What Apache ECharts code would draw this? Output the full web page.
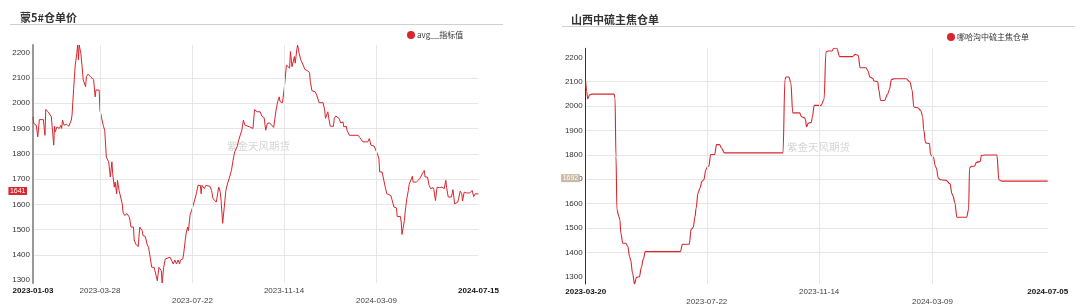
<!DOCTYPE html>
<html><head><meta charset="utf-8">
<script src="https://cdn.jsdelivr.net/npm/echarts@6/dist/echarts.min.js"></script>
<style>html,body{margin:0;padding:0;background:#fff}#c{width:1080px;height:307px}</style>
</head><body><div id="c"></div>
<script>
const leftTitle = '蒙5#仓单价';
const rightTitle = '山西中硫主焦仓单';
const leftName = 'avg__指标值';
const rightName = '哪哈沟中硫主焦仓单';
const watermark = '紫金天风期货';

const leftDates = [
'2023-01-03','2023-01-04','2023-01-07','2023-01-09','2023-01-11','2023-01-16','2023-01-18','2023-01-19','2023-01-22','2023-01-26',
'2023-01-28','2023-01-29','2023-01-30','2023-01-31','2023-02-02','2023-02-05','2023-02-07','2023-02-08','2023-02-09','2023-02-11',
'2023-02-14','2023-02-17','2023-02-20','2023-02-21','2023-02-23','2023-02-25','2023-02-27','2023-02-28','2023-03-01','2023-03-02',
'2023-03-04','2023-03-06','2023-03-07','2023-03-10','2023-03-11','2023-03-13','2023-03-16','2023-03-18','2023-03-20','2023-03-22',
'2023-03-23','2023-03-27','2023-03-28','2023-03-30','2023-04-01','2023-04-03','2023-04-05','2023-04-08','2023-04-10','2023-04-12',
'2023-04-13','2023-04-15','2023-04-16','2023-04-18','2023-04-19','2023-04-21','2023-04-23','2023-04-25','2023-04-26','2023-04-28',
'2023-05-01','2023-05-04','2023-05-06','2023-05-09','2023-05-10','2023-05-12','2023-05-15','2023-05-17','2023-05-20','2023-05-21',
'2023-05-24','2023-05-26','2023-05-28','2023-05-30','2023-06-01','2023-06-04','2023-06-06','2023-06-08','2023-06-10','2023-06-13',
'2023-06-14','2023-06-16','2023-06-18','2023-06-20','2023-06-24','2023-06-26','2023-06-28','2023-06-30','2023-07-02','2023-07-04',
'2023-07-06','2023-07-07','2023-07-10','2023-07-11','2023-07-14','2023-07-16','2023-07-17','2023-07-19','2023-07-21','2023-07-23',
'2023-07-25','2023-07-27','2023-07-29','2023-08-01','2023-08-02','2023-08-03','2023-08-06','2023-08-08','2023-08-10','2023-08-13',
'2023-08-15','2023-08-17','2023-08-19','2023-08-21','2023-08-24','2023-08-26','2023-08-27','2023-08-29','2023-08-31','2023-09-02',
'2023-09-04','2023-09-06','2023-09-08','2023-09-09','2023-09-11','2023-09-13','2023-09-16','2023-09-18','2023-09-20','2023-09-22',
'2023-09-24','2023-09-26','2023-10-02','2023-10-06','2023-10-08','2023-10-11','2023-10-15','2023-10-17','2023-10-20','2023-10-22',
'2023-10-24','2023-10-27','2023-10-29','2023-11-01','2023-11-04','2023-11-06','2023-11-08','2023-11-09','2023-11-12','2023-11-14',
'2023-11-15','2023-11-17','2023-11-19','2023-11-21','2023-11-22','2023-11-24','2023-11-26','2023-11-27','2023-11-28','2023-11-30',
'2023-12-01','2023-12-03','2023-12-05','2023-12-07','2023-12-08','2023-12-10','2023-12-13','2023-12-16','2023-12-17','2023-12-19',
'2023-12-21','2023-12-23','2023-12-25','2023-12-27','2023-12-28','2024-01-02','2024-01-04','2024-01-05','2024-01-07','2024-01-08',
'2024-01-09','2024-01-11','2024-01-15','2024-01-16','2024-01-18','2024-01-20','2024-01-22','2024-01-24','2024-01-27','2024-01-28',
'2024-01-31','2024-02-01','2024-02-04','2024-02-15','2024-02-17','2024-02-21','2024-02-27','2024-02-29','2024-03-02','2024-03-04',
'2024-03-06','2024-03-08','2024-03-10','2024-03-12','2024-03-13','2024-03-16','2024-03-18','2024-03-20','2024-03-22','2024-03-24',
'2024-03-27','2024-03-29','2024-03-31','2024-04-03','2024-04-04','2024-04-08','2024-04-09','2024-04-10','2024-04-13','2024-04-14',
'2024-04-16','2024-04-18','2024-04-19','2024-04-21','2024-04-23','2024-04-24','2024-04-28','2024-05-01','2024-05-03','2024-05-05',
'2024-05-08','2024-05-09','2024-05-12','2024-05-14','2024-05-16','2024-05-19','2024-05-20','2024-05-22','2024-05-24','2024-05-27',
'2024-05-29','2024-05-30','2024-06-02','2024-06-04','2024-06-05','2024-06-07','2024-06-11','2024-06-13','2024-06-15','2024-06-17',
'2024-06-19','2024-06-20','2024-06-22','2024-06-24','2024-06-25','2024-06-27','2024-06-30','2024-07-02','2024-07-04','2024-07-07',
'2024-07-09','2024-07-11','2024-07-15'
];
const leftValues = [
1946,1920,1913,1867,1935,1935,1873,1975,1966,1946,
1940,1834,1909,1887,1906,1900,1913,1900,1933,1913,
1916,1909,1933,1953,2058,2151,2197,2230,2171,2230,
2197,2131,2092,2065,2105,2115,2105,2107,2094,2025,
2052,2052,1973,1943,1913,1893,1787,1768,1708,1768,
1721,1668,1688,1642,1695,1655,1655,1602,1569,1556,
1563,1549,1510,1510,1459,1443,1433,1510,1496,1477,
1473,1443,1430,1391,1351,1351,1344,1298,1351,1338,
1289,1351,1384,1380,1391,1388,1364,1380,1364,1380,
1364,1380,1384,1404,1483,1510,1496,1556,1576,1596,
1602,1642,1675,1675,1642,1675,1662,1675,1671,1671,
1655,1622,1615,1609,1668,1648,1615,1525,1589,1655,
1681,1701,1708,1734,1774,1807,1827,1853,1873,1893,
1933,1913,1906,1900,1975,1966,1966,1949,1943,1893,
1920,1922,1920,1904,1973,2006,2025,2006,2002,2052,
2081,2151,2151,2138,2204,2144,2147,2184,2158,2211,
2230,2197,2171,2168,2151,2134,2129,2121,2085,2049,
2055,2045,2032,2025,2002,2002,1973,1940,1943,1966,
1943,1909,1909,1940,1949,1943,1940,1922,1926,1906,
1909,1893,1873,1873,1864,1847,1847,1860,1834,1834,
1830,1827,1801,1781,1728,1728,1724,1668,1642,1639,
1635,1635,1589,1586,1552,1552,1530,1481,1536,1569,
1622,1655,1679,1679,1711,1688,1688,1697,1705,1719,
1734,1708,1708,1675,1662,1666,1658,1615,1668,1666,
1662,1668,1662,1695,1666,1629,1629,1658,1602,1596,
1609,1622,1652,1642,1613,1648,1645,1639,1645,1655,
1631,1642,1641
];

const rightDates = [
'2023-03-20','2023-03-21','2023-03-22','2023-03-24','2023-03-26','2023-04-18','2023-04-19','2023-04-20','2023-04-21','2023-04-23',
'2023-04-24','2023-04-25','2023-04-27','2023-04-30','2023-05-02','2023-05-04','2023-05-05','2023-05-07','2023-05-09','2023-05-11',
'2023-05-14','2023-05-16','2023-05-18','2023-05-20','2023-06-25','2023-06-27','2023-07-04','2023-07-06','2023-07-08','2023-07-10',
'2023-07-11','2023-07-13','2023-07-15','2023-07-17','2023-07-19','2023-07-21','2023-07-23','2023-07-24','2023-07-26','2023-07-30',
'2023-08-01','2023-08-04','2023-08-06','2023-08-09','2023-10-08','2023-10-10','2023-10-11','2023-10-14','2023-10-16','2023-10-18',
'2023-10-25','2023-10-27','2023-10-30','2023-10-31','2023-11-01','2023-11-03','2023-11-06','2023-11-07','2023-11-09','2023-11-16',
'2023-11-19','2023-11-21','2023-11-23','2023-11-27','2023-11-29','2023-12-02','2023-12-05','2023-12-18','2023-12-21','2023-12-24',
'2023-12-26','2024-01-01','2024-01-03','2024-01-05','2024-01-08','2024-01-09','2024-01-13','2024-01-14','2024-01-16','2024-01-20',
'2024-01-23','2024-01-25','2024-01-27','2024-01-30','2024-02-11','2024-02-15','2024-02-17','2024-02-19','2024-02-23','2024-02-26',
'2024-02-28','2024-02-29','2024-03-02','2024-03-06','2024-03-07','2024-03-10','2024-03-12','2024-03-13','2024-03-15','2024-03-17',
'2024-03-23','2024-03-27','2024-03-29','2024-03-30','2024-04-01','2024-04-03','2024-04-13','2024-04-15','2024-04-16','2024-04-18',
'2024-04-21','2024-04-23','2024-04-27','2024-04-28','2024-05-02','2024-05-14','2024-05-16','2024-05-19','2024-07-05'
];
const rightValues = [
2102,2061,2030,2046,2049,2049,2034,1794,1575,1547,
1533,1478,1437,1437,1426,1382,1369,1314,1270,1297,
1300,1339,1372,1403,1403,1433,1433,1495,1502,1547,
1581,1643,1664,1691,1698,1739,1753,1753,1801,1801,
1842,1842,1828,1808,1808,2109,2119,2119,2096,1972,
1972,1956,1952,1945,1915,1930,1933,1955,2003,2003,
2027,2222,2226,2226,2237,2237,2203,2203,2212,2208,
2157,2157,2144,2119,2114,2103,2100,2068,2023,2023,
2048,2068,2109,2112,2112,2099,2068,1996,1993,1982,
1956,1904,1849,1846,1801,1790,1753,1746,1705,1698,
1695,1681,1640,1632,1602,1544,1544,1575,1746,1753,
1753,1769,1773,1797,1799,1799,1698,1692,1692
];

const leftXLabels = ['2023-01-03','2023-03-28','2023-07-22','2023-11-14','2024-03-09','2024-07-15'];
const rightXLabels = ['2023-03-20','2023-07-22','2023-11-14','2024-03-09','2024-07-05'];
const lowerRowLabels = ['2023-07-22','2024-03-09'];
const yTickValues = [1300,1400,1500,1600,1700,1800,1900,2000,2100,2200];

const RED = '#d7262d';
const GRIDC = '#e6e6e6';
const FONT = '"Liberation Sans", Arial, "Noto Sans CJK SC", sans-serif';
const CJK = '"Noto Sans CJK SC", "Liberation Sans", sans-serif';

const ts = s => Date.parse(s + 'T00:00:00Z');
function fmtDate(v){
  const d = new Date(v);
  const p = n => (n < 10 ? '0' : '') + n;
  return d.getUTCFullYear() + '-' + p(d.getUTCMonth()+1) + '-' + p(d.getUTCDate());
}
function xLabelFormatter(labels){
  return function(v){
    const s = fmtDate(v);
    if (s === labels[0] || s === labels[labels.length-1]) return '{b|' + s + '}';
    if (lowerRowLabels.indexOf(s) >= 0) return '\n{n|' + s + '}';
    return '{n|' + s + '}';
  };
}
function xAxisFor(gridIndex, labels){
  const vals = labels.map(ts);
  return {
    type: 'value', gridIndex: gridIndex,
    min: vals[0], max: vals[vals.length-1],
    axisLine: {show: false},
    axisTick: {show: false, customValues: vals},
    axisLabel: {
      customValues: vals, formatter: xLabelFormatter(labels), margin: 3,
      lineHeight: 10, hideOverlap: false, showMinLabel: true, showMaxLabel: true,
      rich: {
        b: {fontFamily: FONT, fontSize: 8, fontWeight: 'bold', color: '#111', lineHeight: 10},
        n: {fontFamily: FONT, fontSize: 8, color: '#444', lineHeight: 10}
      }
    },
    splitLine: {show: false}
  };
}
function yAxisFor(gridIndex, axisColor, axisWidth){
  return {
    type: 'value', gridIndex: gridIndex, min: 'dataMin', max: 'dataMax', scale: true,
    axisLine: {show: true, lineStyle: {color: axisColor, width: axisWidth}},
    axisTick: {show: false, customValues: yTickValues},
    axisLabel: {customValues: yTickValues, formatter: v => String(v), fontFamily: FONT, fontSize: 8, color: '#333', margin: 3},
    splitLine: {show: true, showMinLine: false, showMaxLine: false, lineStyle: {color: GRIDC, width: 1}}
  };
}
function tagLine(value, bg){
  return {
    silent: true, symbol: 'none', animation: false,
    lineStyle: {color: 'transparent', width: 0},
    data: [{yAxis: value}],
    label: {
      show: true, position: 'start', distance: 6, formatter: String(value),
      backgroundColor: bg, color: '#fff', fontFamily: FONT, fontSize: 7,
      lineHeight: 8, padding: [0, 1.5], offset: [0, -3]
    }
  };
}
function vGridSeries(gridIndex, labels){
  return {
    type: 'line', xAxisIndex: gridIndex, yAxisIndex: gridIndex, data: [], z: 1, silent: true,
    markLine: {
      silent: true, symbol: 'none', animation: false, label: {show: false},
      lineStyle: {color: GRIDC, width: 1, type: 'solid'},
      emphasis: {disabled: true},
      data: labels.slice(1, labels.length-1).map(s => ({xAxis: ts(s)}))
    }
  };
}

const chart = echarts.init(document.getElementById('c'), null, {renderer: 'canvas'});
chart.setOption({
  animation: false,
  backgroundColor: '#fff',
  title: [
    {text: leftTitle, left: 15, top: 7, textStyle: {fontFamily: CJK, fontSize: 11, fontWeight: 'bold', color: '#333'}},
    {text: rightTitle, left: 566, top: 9, textStyle: {fontFamily: CJK, fontSize: 11, fontWeight: 'bold', color: '#333'}}
  ],
  legend: [
    {data: [leftName], left: 407, top: 31, icon: 'circle', itemWidth: 8, itemHeight: 8, itemGap: 4, padding: 0,
     textStyle: {fontFamily: CJK, fontSize: 8, color: '#333', padding: [0,0,0,-3]}},
    {data: [rightName], left: 947, top: 33, icon: 'circle', itemWidth: 8, itemHeight: 8, itemGap: 4, padding: 0,
     textStyle: {fontFamily: CJK, fontSize: 8, color: '#333', padding: [0,0,0,-3]}}
  ],
  graphic: [
    {type: 'line', shape: {x1: 10, y1: 24.5, x2: 503, y2: 24.5}, style: {stroke: '#d0d0d0', lineWidth: 1}, silent: true},
    {type: 'line', shape: {x1: 562, y1: 26.5, x2: 1075, y2: 26.5}, style: {stroke: '#d0d0d0', lineWidth: 1}, silent: true},
    {type: 'text', left: 227, top: 141, silent: true, z: 0,
     style: {text: watermark, fontFamily: CJK, fontSize: 10.5, fill: 'rgba(0,0,0,0.18)'}},
    {type: 'text', left: 787, top: 142, silent: true, z: 0,
     style: {text: watermark, fontFamily: CJK, fontSize: 10.5, fill: 'rgba(0,0,0,0.18)'}}
  ],
  grid: [
    {left: 33, top: 45, width: 445.5, height: 238},
    {left: 585.7, top: 48.3, width: 462, height: 236.7}
  ],
  xAxis: [xAxisFor(0, leftXLabels), xAxisFor(1, rightXLabels)],
  yAxis: [yAxisFor(0, '#999', 2), yAxisFor(1, '#333', 1)],
  series: [
    vGridSeries(0, leftXLabels),
    vGridSeries(1, rightXLabels),
    {
      name: leftName, type: 'line', xAxisIndex: 0, yAxisIndex: 0, z: 3,
      data: leftDates.map((d, i) => [ts(d), leftValues[i]]),
      showSymbol: false, symbol: 'none', itemStyle: {color: RED},
      lineStyle: {color: RED, width: 1},
      markLine: tagLine(leftValues[leftValues.length-1], RED)
    },
    {
      name: rightName, type: 'line', xAxisIndex: 1, yAxisIndex: 1, z: 3,
      data: rightDates.map((d, i) => [ts(d), rightValues[i]]),
      showSymbol: false, symbol: 'none', itemStyle: {color: RED},
      smooth: 0.35, smoothMonotone: 'x',
      lineStyle: {color: RED, width: 1.1},
      markLine: tagLine(rightValues[rightValues.length-1], '#c8b8a4')
    }
  ]
});
</script></body></html>
